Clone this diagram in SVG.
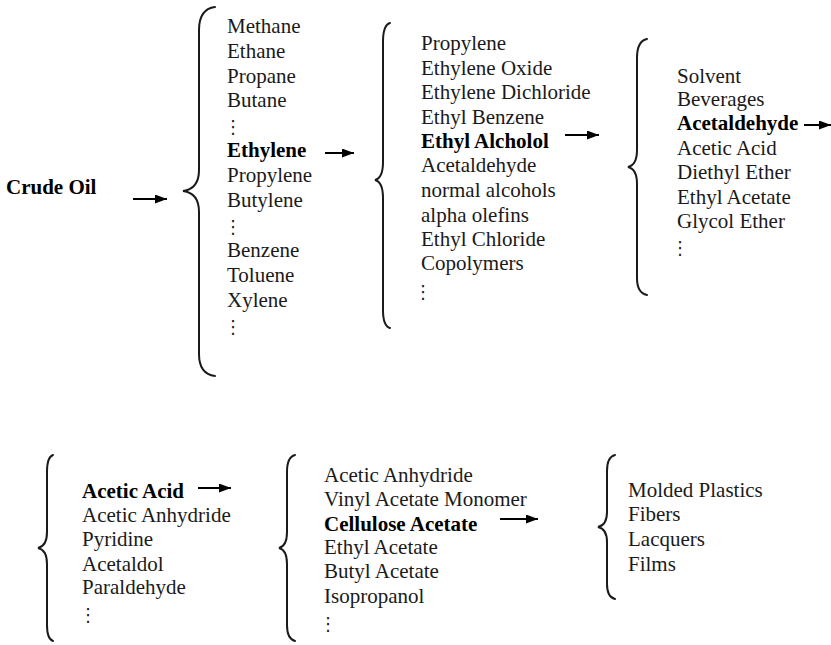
<svg xmlns="http://www.w3.org/2000/svg" width="831" height="645" viewBox="0 0 831 645">
<style>
text{font-family:"Liberation Serif","Times New Roman",serif;font-size:21px;fill:#1a1a1a}
.b{font-weight:bold;fill:#000}
.d{font-family:"DejaVu Serif","DejaVu Sans",serif;font-size:18px;text-anchor:middle}
.brace{fill:none;stroke:#1a1a1a;stroke-width:2;stroke-linecap:round}
.arr{stroke:#000;stroke-width:2;marker-end:url(#ah)}
</style>
<defs>
<marker id="ah" markerUnits="userSpaceOnUse" markerWidth="13" markerHeight="10" refX="12" refY="4.5" orient="auto">
<path d="M0,0 L12,4.5 L0,9 z" fill="#000"/>
</marker>
</defs>
<rect width="831" height="645" fill="#fff"/>

<g id="crude-oil"><text class="b" x="6" y="194">Crude Oil</text></g>

<g id="col1">
<path class="brace" d="M215,7 Q199,9 199,30 L199,170 Q199,189 183,191 Q199,193 199,212 L199,354 Q199,374 215,376"/>
<text x="227" y="33">Methane</text>
<text x="227" y="58">Ethane</text>
<text x="227" y="83">Propane</text>
<text x="227" y="107">Butane</text>
<text class="d" x="233" y="133">⋮</text>
<text class="b" x="227" y="157">Ethylene</text>
<text x="227" y="182">Propylene</text>
<text x="227" y="207">Butylene</text>
<text class="d" x="233" y="233">⋮</text>
<text x="227" y="257">Benzene</text>
<text x="227" y="282">Toluene</text>
<text x="227" y="307">Xylene</text>
<text class="d" x="233" y="333">⋮</text>
</g>

<g id="col2">
<path class="brace" d="M390,23 Q383,25 383,42 L383,162 Q383,178 375,180 Q383,182 383,198 L383,310 Q383,326 390,328"/>
<text x="421" y="50">Propylene</text>
<text x="421" y="75">Ethylene Oxide</text>
<text x="421" y="99">Ethylene Dichloride</text>
<text x="421" y="124">Ethyl Benzene</text>
<text class="b" x="421" y="148">Ethyl Alcholol</text>
<text x="421" y="172">Acetaldehyde</text>
<text x="421" y="197">normal alcohols</text>
<text x="421" y="222">alpha olefins</text>
<text x="421" y="246">Ethyl Chloride</text>
<text x="421" y="270">Copolymers</text>
<text class="d" x="423" y="298">⋮</text>
</g>

<g id="col3">
<path class="brace" d="M647,39 Q637,41 637,58 L637,150 Q637,165 628,167 Q637,169 637,184 L637,278 Q637,293 647,295"/>
<text x="677" y="83">Solvent</text>
<text x="677" y="106">Beverages</text>
<text class="b" x="677" y="130">Acetaldehyde</text>
<text x="677" y="155">Acetic Acid</text>
<text x="677" y="179">Diethyl Ether</text>
<text x="677" y="204">Ethyl Acetate</text>
<text x="677" y="228">Glycol Ether</text>
<text class="d" x="680" y="254">⋮</text>
</g>

<g id="col4">
<path class="brace" d="M53,455 Q47,457 47,472 L47,532 Q47,546 38,548 Q47,550 47,564 L47,625 Q47,639 53,641"/>
<text class="b" x="82" y="498">Acetic Acid</text>
<text x="82" y="522">Acetic Anhydride</text>
<text x="82" y="546">Pyridine</text>
<text x="82" y="571">Acetaldol</text>
<text x="82" y="594">Paraldehyde</text>
<text class="d" x="88" y="621">⋮</text>
</g>

<g id="col5">
<path class="brace" d="M295,455 Q287,457 287,472 L287,532 Q287,546 279,548 Q287,550 287,564 L287,625 Q287,639 295,641"/>
<text x="324" y="482">Acetic Anhydride</text>
<text x="324" y="506">Vinyl Acetate Monomer</text>
<text class="b" x="324" y="531">Cellulose Acetate</text>
<text x="324" y="554">Ethyl Acetate</text>
<text x="324" y="578">Butyl Acetate</text>
<text x="324" y="603">Isopropanol</text>
<text class="d" x="328" y="630">⋮</text>
</g>

<g id="col6">
<path class="brace" d="M615,455 Q607,457 607,471 L607,512 Q607,525 598,527 Q607,529 607,542 L607,584 Q607,597 615,599"/>
<text x="628" y="497">Molded Plastics</text>
<text x="628" y="521">Fibers</text>
<text x="628" y="546">Lacquers</text>
<text x="628" y="571">Films</text>
</g>

<g id="connectors">
<line class="arr" x1="133" y1="199" x2="167" y2="199"/>
<line class="arr" x1="325" y1="153" x2="354" y2="153"/>
<line class="arr" x1="565" y1="135" x2="599" y2="135"/>
<line class="arr" x1="804" y1="125" x2="831" y2="125"/>
<line class="arr" x1="198" y1="488" x2="231" y2="488"/>
<line class="arr" x1="500" y1="519" x2="538" y2="519"/>
</g>
</svg>
